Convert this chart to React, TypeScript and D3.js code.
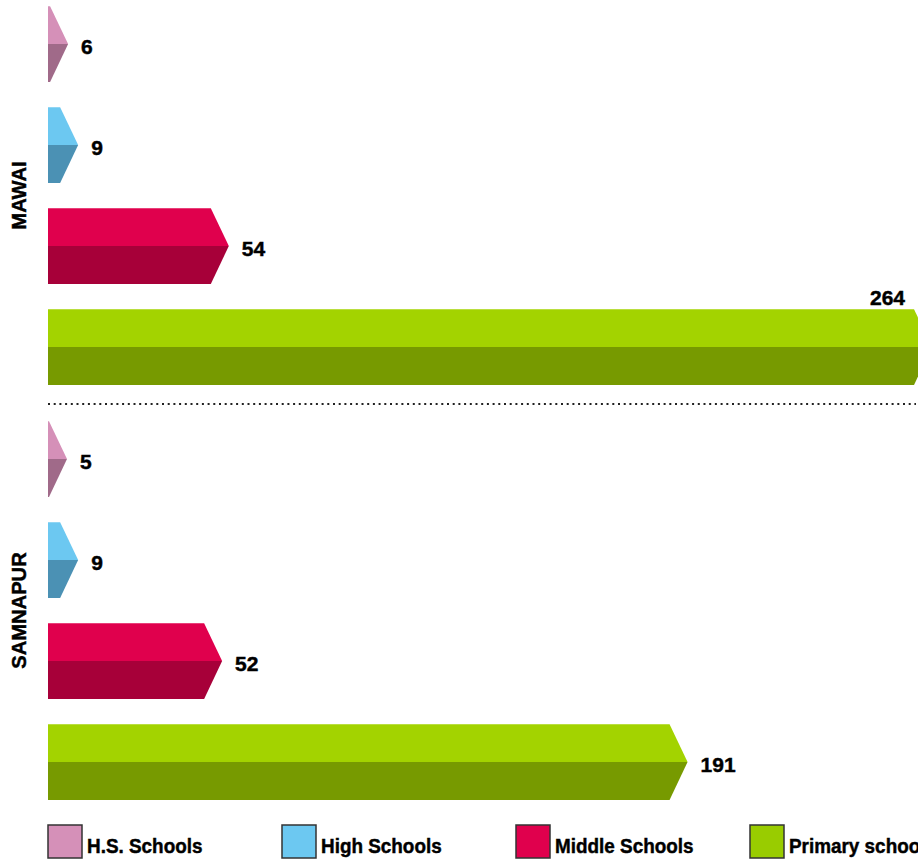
import React from "react";
import * as d3 from "d3";

const groups = ["MAWAI", "SAMNAPUR"];
const series = ["H.S. Schools", "High Schools", "Middle Schools", "Primary schools"];
const mawaiValues = [6, 9, 54, 264];
const samnapurValues = [5, 9, 52, 191];
const topColors = ["#d590b8", "#6cc8f1", "#e0004d", "#a3d300"];
const bottomColors = ["#a06a89", "#4b91b4", "#a70039", "#779a00"];
const legendColors = ["#d590b8", "#6cc8f1", "#e0004d", "#99cc00"];

const W = 918;
const H = 861;
const FONT = "'Liberation Sans', Arial, 'DejaVu Sans', sans-serif";

export default function App() {
  const x = d3.scaleLinear().domain([0, 264]).range([48, 932]);
  const groupRanges: [number, number][] = [
    [-6.5, 397.5],
    [408.5, 812.5],
  ];
  const data = [mawaiValues, samnapurValues];
  const tipDepth = 18;
  const minTip = 48 + 19;
  const textStroke = { stroke: "#000", strokeWidth: 0.45 };

  return (
    <svg
      width={W}
      height={H}
      style={{ position: "absolute", left: 0, top: 0, background: "#fff" }}
      fontFamily={FONT}
      fontWeight="bold"
    >
      {groups.map((g, gi) => {
        const y = d3.scaleBand<string>().domain(series).range(groupRanges[gi]).paddingInner(0.25).paddingOuter(0.125);
        const center = (groupRanges[gi][0] + groupRanges[gi][1]) / 2;
        return (
          <g key={g}>
            <text
              transform={`translate(26,${center}) rotate(-90) scale(0.96,1)`}
              textAnchor="middle"
              fontSize={21}
              fill="#000"
              {...textStroke}
            >
              {g}
            </text>
            {series.map((s, si) => {
              const v = data[gi][si];
              const y0 = y(s)!;
              const bh = y.bandwidth();
              const mid = y0 + bh / 2;
              const tip = Math.max(x(v), minTip);
              const flat = Math.max(48, tip - tipDepth);
              const topPath = `M48,${y0}L${flat},${y0}L${tip},${mid}L48,${mid}Z`;
              const botPath = `M48,${mid}L${tip},${mid}L${flat},${y0 + bh}L48,${y0 + bh}Z`;
              const overflow = tip + 11 + 40 > W;
              return (
                <g key={s}>
                  <path d={topPath} fill={topColors[si]} />
                  <path d={botPath} fill={bottomColors[si]} />
                  {overflow ? (
                    <text x={905} y={y0 - 4} textAnchor="end" fontSize={21} fill="#000" {...textStroke}>
                      {v}
                    </text>
                  ) : (
                    <text x={tip + 13} y={mid + 10} fontSize={21} fill="#000" {...textStroke}>
                      {v}
                    </text>
                  )}
                </g>
              );
            })}
          </g>
        );
      })}
      <line x1={48} x2={916} y1={404} y2={404} stroke="#222" strokeWidth={2} strokeDasharray="2,3.7" />
      {series.map((s, si) => {
        const lx = 48 + si * 234;
        return (
          <g key={"lg" + s}>
            <rect x={lx} y={825} width={34} height={33} fill={legendColors[si]} stroke="#333" strokeWidth={1.5} />
            <text transform={`translate(${lx + 39},853) scale(0.9,1)`} fontSize={21} fill="#000" {...textStroke}>
              {s}
            </text>
          </g>
        );
      })}
    </svg>
  );
}
